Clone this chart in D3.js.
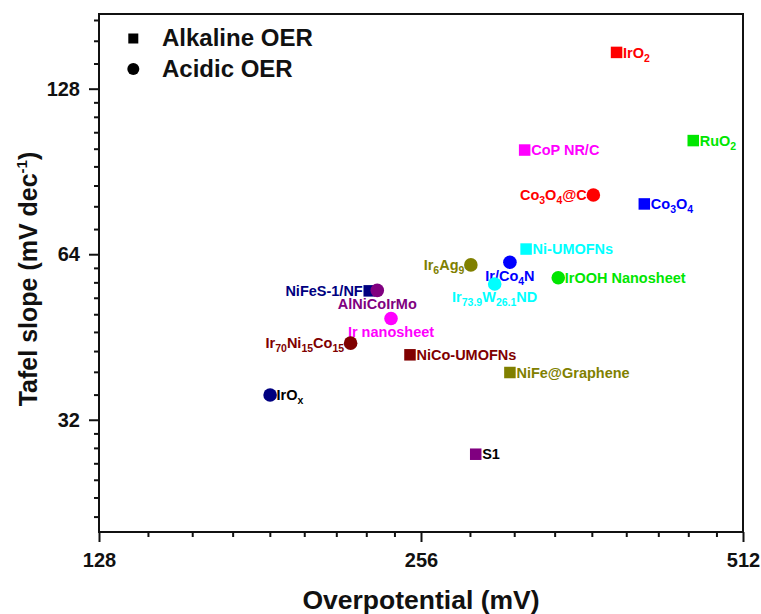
<!DOCTYPE html>
<html>
<head>
<meta charset="utf-8">
<script src="https://cdn.jsdelivr.net/npm/d3@7/dist/d3.min.js"></script>
<style>
  html, body { margin: 0; padding: 0; background: #fff; }
  svg { display: block; font-family: "Liberation Sans", Arial, Helvetica, sans-serif; font-weight: bold; }
</style>
</head>
<body>
<svg id="chart" width="761" height="614"></svg>
<script>
// Catalyst names (underscore-brace marks a subscript), overpotential (mV), Tafel slope (mV/dec)
const catalysts = ["IrO_{2}", "RuO_{2}", "CoP NR/C", "Co_{3}O_{4}@C", "Co_{3}O_{4}", "Ni-UMOFNs",
  "Ir_{6}Ag_{9}", "Ir/Co_{4}N", "IrOOH Nanosheet", "Ir_{73.9}W_{26.1}ND", "NiFeS-1/NF", "AlNiCoIrMo",
  "Ir nanosheet", "Ir_{70}Ni_{15}Co_{15}", "NiCo-UMOFNs", "NiFe@Graphene", "IrO_{x}", "S1"];
const overpotential = [390, 460, 320, 371, 414, 321, 285, 310, 344, 300, 229, 233, 240, 220, 250, 310, 185, 288];
const tafelSlope = [149, 103, 99, 82, 79, 65.4, 61.2, 61.9, 58, 56.5, 54.9, 55, 48.9, 44.1, 42, 39, 35.5, 27.7];
const medium = ["Alkaline", "Alkaline", "Alkaline", "Acidic", "Alkaline", "Alkaline",
  "Acidic", "Acidic", "Acidic", "Acidic", "Alkaline", "Acidic",
  "Acidic", "Acidic", "Alkaline", "Alkaline", "Acidic", "Alkaline"];

const xTicks = [128, 256, 512];
const yTicks = [32, 64, 128];
const legendLabels = ["Alkaline OER", "Acidic OER"];
const legendMedia = ["Alkaline", "Acidic"];

// Styling per point
const pointColors = ["#ff0000", "#00e600", "#ff00ff", "#ff0000", "#0000ff", "#00ffff",
  "#808000", "#0000ff", "#00e600", "#00ffff", "#000080", "#800080",
  "#ff00ff", "#800000", "#800000", "#808000", "#000080", "#800080"];
const labelColors = pointColors.map((c, i) => (i === 16 || i === 17) ? "#000000" : c);
const labelSide = ["right", "right", "right", "left", "right", "right",
  "left", "below", "right", "below", "left", "below",
  "below", "left", "right", "right", "right", "right"];

const svg = d3.select("#chart");
const plot = { left: 99, right: 743, top: 14, bottom: 532 };

const x = d3.scaleLog().base(2).domain([128, 512]).range([plot.left, plot.right]);
const y = d3.scaleLog().base(2).domain([20, 175]).range([plot.bottom, plot.top]);

// minor ticks: eight per octave, linear steps within each octave
function minorTicks(domain) {
  const out = [];
  for (let k = 3; k <= 10; k++) {
    const base = Math.pow(2, k);
    for (let j = 1; j <= 8; j++) {
      const v = base * (1 + j / 9);
      if (v > domain[0] && v < domain[1]) out.push(v);
    }
  }
  return out;
}

const tickFont = 20;

// minor ticks
svg.append("g").attr("transform", `translate(0,${plot.bottom})`)
  .call(d3.axisBottom(x).tickValues(minorTicks(x.domain())).tickSize(5).tickSizeOuter(0).tickFormat(""))
  .call(g => g.select(".domain").remove())
  .selectAll("line").attr("stroke", "#111").attr("stroke-width", 2);
svg.append("g").attr("transform", `translate(${plot.left},0)`)
  .call(d3.axisLeft(y).tickValues(minorTicks(y.domain())).tickSize(5).tickSizeOuter(0).tickFormat(""))
  .call(g => g.select(".domain").remove())
  .selectAll("line").attr("stroke", "#111").attr("stroke-width", 2);

// major ticks
const xAxis = svg.append("g").attr("transform", `translate(0,${plot.bottom})`)
  .call(d3.axisBottom(x).tickValues(xTicks).tickSize(10).tickSizeOuter(0).tickPadding(10.5).tickFormat(d3.format("d")));
xAxis.select(".domain").remove();
xAxis.selectAll("line").attr("stroke", "#111").attr("stroke-width", 2);
xAxis.selectAll("text").attr("fill", "#111").attr("font-size", tickFont).attr("font-weight", "bold")
  .attr("font-family", "Liberation Sans, Arial, sans-serif");

const yAxis = svg.append("g").attr("transform", `translate(${plot.left},0)`)
  .call(d3.axisLeft(y).tickValues(yTicks).tickSize(10).tickSizeOuter(0).tickPadding(9).tickFormat(d3.format("d")));
yAxis.select(".domain").remove();
yAxis.selectAll("line").attr("stroke", "#111").attr("stroke-width", 2);
yAxis.selectAll("text").attr("fill", "#111").attr("font-size", tickFont).attr("font-weight", "bold")
  .attr("font-family", "Liberation Sans, Arial, sans-serif");

// frame
svg.append("rect")
  .attr("x", plot.left).attr("y", plot.top)
  .attr("width", plot.right - plot.left).attr("height", plot.bottom - plot.top)
  .attr("fill", "none").attr("stroke", "#111").attr("stroke-width", 2);

// axis titles
svg.append("text")
  .attr("x", (plot.left + plot.right) / 2).attr("y", 609)
  .attr("text-anchor", "middle").attr("font-size", 26.5).attr("fill", "#111")
  .text("Overpotential (mV)");

const yTitle = svg.append("text")
  .attr("transform", `translate(37,${(plot.top + plot.bottom) / 2 + 6}) rotate(-90)`)
  .attr("text-anchor", "middle").attr("font-size", 25).attr("fill", "#111");
yTitle.append("tspan").text("Tafel slope (mV dec");
yTitle.append("tspan").attr("font-size", 15).attr("dy", -10).text("-1");
yTitle.append("tspan").attr("dy", 10).text(")");

// rich label: parse "_{...}" as subscripts
function writeLabel(textSel, str, baseSize, subSize) {
  const parts = [];
  const re = /_\{([^}]*)\}/g;
  let last = 0, m;
  while ((m = re.exec(str)) !== null) {
    if (m.index > last) parts.push({ t: str.slice(last, m.index), sub: false });
    parts.push({ t: m[1], sub: true });
    last = re.lastIndex;
  }
  if (last < str.length) parts.push({ t: str.slice(last), sub: false });
  let shifted = false;
  parts.forEach(p => {
    const ts = textSel.append("tspan").text(p.t);
    if (p.sub) {
      ts.attr("font-size", subSize);
      if (!shifted) { ts.attr("dy", 4); shifted = true; }
    } else {
      ts.attr("font-size", baseSize);
      if (shifted) { ts.attr("dy", -4); shifted = false; }
    }
  });
}

const markerSize = 11.5;
const markerR = 6.8;
const labelFont = 14.5;
const subFont = 10.5;

const points = catalysts.map((name, i) => ({
  name, eta: overpotential[i], slope: tafelSlope[i], medium: medium[i],
  color: pointColors[i], labelColor: labelColors[i], side: labelSide[i]
}));

const gPts = svg.append("g");
points.forEach(d => {
  const cx = x(d.eta), cy = y(d.slope);
  if (d.medium === "Alkaline") {
    gPts.append("rect")
      .attr("x", cx - markerSize / 2).attr("y", cy - markerSize / 2)
      .attr("width", markerSize).attr("height", markerSize)
      .attr("fill", d.color);
  } else {
    gPts.append("circle").attr("cx", cx).attr("cy", cy).attr("r", markerR).attr("fill", d.color);
  }
  const t = gPts.append("text").attr("fill", d.labelColor).attr("font-size", labelFont);
  if (d.side === "right") {
    t.attr("x", cx + 6.5).attr("y", cy + 5.2).attr("text-anchor", "start");
  } else if (d.side === "left") {
    t.attr("x", cx - 6.5).attr("y", cy + 5.2).attr("text-anchor", "end");
  } else {
    t.attr("x", cx).attr("y", cy + 18.5).attr("text-anchor", "middle");
  }
  writeLabel(t, d.name, labelFont, subFont);
});

// legend
const legend = svg.append("g");
legendLabels.forEach((lab, i) => {
  const ly = 38.5 + i * 30.5;
  if (legendMedia[i] === "Alkaline") {
    legend.append("rect").attr("x", 133.3 - 5).attr("y", ly - 5).attr("width", 10).attr("height", 10).attr("fill", "#000");
  } else {
    legend.append("circle").attr("cx", 133.3).attr("cy", ly).attr("r", 6).attr("fill", "#000");
  }
  legend.append("text").attr("x", 162).attr("y", ly + 7.5)
    .attr("font-size", 24).attr("fill", "#111").text(lab);
});
</script>
</body>
</html>
